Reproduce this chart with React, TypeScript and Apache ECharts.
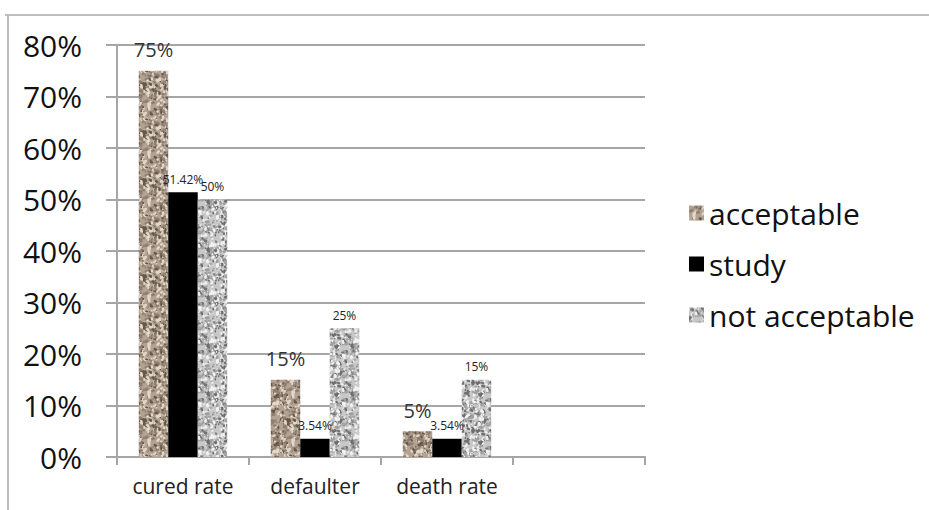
import React, { useEffect, useRef } from "react";
import * as echarts from "echarts";

const categories = ["cured rate", "defaulter", "death rate", ""];
const acceptable = [75, 15, 5, null];
const study = [51.42, 3.54, 3.54, null];
const notAcceptable = [50, 25, 15, null];
const yTicks = [0, 10, 20, 30, 40, 50, 60, 70, 80];

function hash(x: number, y: number, s: number) {
  const v = Math.sin(x * 12.9898 + y * 78.233 + s * 37.719) * 43758.5453;
  return v - Math.floor(v);
}

function makeTexture(base: string, dark: string, mid: string, light: string, seed: number) {
  const size = 48;
  const c = document.createElement("canvas");
  c.width = size;
  c.height = size;
  const ctx = c.getContext("2d")!;
  ctx.fillStyle = base;
  ctx.fillRect(0, 0, size, size);
  for (let i = 0; i < 420; i++) {
    const x = hash(i, 1, seed) * size;
    const y = hash(i, 2, seed) * size;
    const r = 0.5 + hash(i, 3, seed) * 1.0;
    const t = hash(i, 4, seed);
    ctx.fillStyle = t < 0.33 ? dark : t < 0.66 ? mid : light;
    for (const dx of [-size, 0, size]) {
      for (const dy of [-size, 0, size]) {
        ctx.beginPath();
        ctx.ellipse(x + dx, y + dy, r * 1.5, r, t * 6, 0, Math.PI * 2);
        ctx.fill();
      }
    }
  }
  return c;
}

export default function App() {
  const ref = useRef<HTMLDivElement>(null);
  useEffect(() => {
    document.body.style.margin = "0";
    const chart = echarts.init(ref.current!, null, { renderer: "svg" });
    const texA = makeTexture("#b3a292", "#65574a", "#8f7f70", "#e2d8cc", 1);
    const texN = makeTexture("#c8c8c8", "#6f6f6f", "#a0a0a0", "#f2f2f2", 2);
    const patA = { image: texA, repeat: "repeat", imageWidth: 48, imageHeight: 48 };
    const patN = { image: texN, repeat: "repeat", imageWidth: 48, imageHeight: 48 };
    const font = "'Open Sans', 'Segoe UI', sans-serif";
    const smallLabel = {
      show: true,
      position: "top",
      distance: 7,
      fontSize: 12,
      color: "#222",
      fontFamily: font,
      formatter: "{c}%",
    };
    chart.setOption({
      animation: false,
      backgroundColor: "#fff",
      textStyle: { fontFamily: font },
      grid: { left: 117, right: 284, top: 45, bottom: 53 },
      legend: {
        orient: "vertical",
        left: 684,
        top: 193,
        itemWidth: 15,
        itemHeight: 15,
        itemGap: 21,
        icon: "rect",
        textStyle: { fontSize: 30, color: "#111", fontFamily: font },
        data: ["acceptable", "study", "not acceptable"],
      },
      xAxis: {
        type: "category",
        data: categories,
        axisLine: { lineStyle: { color: "#a6a6a6", width: 2 } },
        axisTick: { show: true, length: 8, lineStyle: { color: "#a6a6a6", width: 2 } },
        axisLabel: { interval: 0, fontSize: 21, color: "#222", margin: 18, fontFamily: font },
      },
      yAxis: {
        type: "value",
        min: 0,
        max: 80,
        interval: 10,
        axisLine: { show: true, lineStyle: { color: "#a6a6a6", width: 2 } },
        axisTick: { show: true, length: 11, lineStyle: { color: "#a6a6a6", width: 2 } },
        splitLine: { lineStyle: { color: "#a6a6a6", width: 2 } },
        axisLabel: {
          fontSize: 30,
          color: "#111",
          margin: 35,
          fontFamily: font,
          formatter: (v: number) => (yTicks.includes(v) ? v + "%" : ""),
        },
      },
      series: [
        {
          name: "acceptable",
          type: "bar",
          data: acceptable,
          barGap: "0%",
          barCategoryGap: "33%",
          itemStyle: { color: patA },
          label: { ...smallLabel, fontSize: 20, distance: 11, color: "#333" },
        },
        {
          name: "study",
          type: "bar",
          data: study,
          itemStyle: { color: "#000" },
          label: smallLabel,
        },
        {
          name: "not acceptable",
          type: "bar",
          data: notAcceptable,
          itemStyle: { color: patN },
          label: smallLabel,
        },
      ],
      graphic: [
        { type: "line", shape: { x1: 5, y1: 15, x2: 929, y2: 15 }, style: { stroke: "#bdbdbd", lineWidth: 2 } },
        { type: "line", shape: { x1: 8, y1: 15, x2: 8, y2: 510 }, style: { stroke: "#bdbdbd", lineWidth: 2 } },
      ],
    });
    return () => chart.dispose();
  }, []);
  return <div ref={ref} style={{ width: 929, height: 510 }} />;
}
